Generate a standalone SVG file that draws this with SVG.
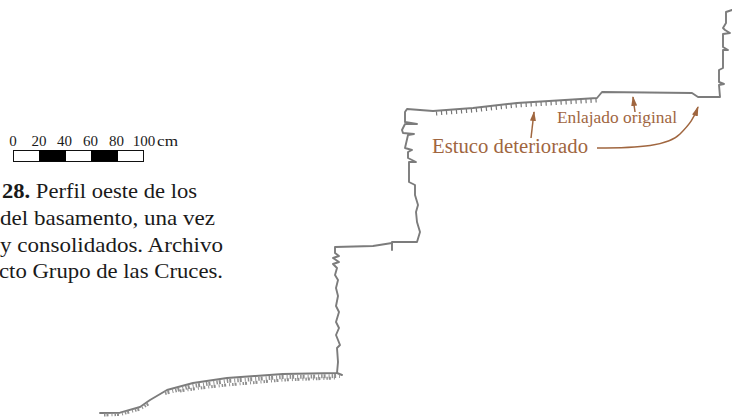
<svg xmlns="http://www.w3.org/2000/svg" width="732" height="419" viewBox="0 0 732 419">
<style>
text{font-family:"Liberation Serif","Times New Roman",serif}
.cap{font-size:22px;fill:#1a1a1a}
.sc{font-size:15px;fill:#1a1a1a}
.lab{fill:#a0663f}
.ln{fill:none;stroke:#a0663f;stroke-width:1.5}
.pf{fill:none;stroke:#7c7c7c;stroke-width:1.9;stroke-linejoin:round;stroke-linecap:round}
.ht{fill:none;stroke:#777;stroke-width:4;stroke-dasharray:1.2 3.8}
.gr{fill:none;stroke:#8f8f8f;stroke-dasharray:1.5 1 2 3 1 2}
</style>
<defs>
<marker id="ah" markerUnits="userSpaceOnUse" markerWidth="12" markerHeight="8" refX="9" refY="3" orient="auto"><path d="M0 0L10 3L0 6z" fill="#a0663f"/></marker>
<filter id="b" x="-5%" y="-5%" width="110%" height="110%"><feGaussianBlur stdDeviation="0.5"/></filter>
<filter id="c" x="-5%" y="-20%" width="110%" height="140%"><feGaussianBlur stdDeviation="0.7"/></filter>
</defs>
<g id="profile" filter="url(#b)">
<path class="pf" d="M100 413L120 412.7L140 407L150 400L167 390L193 383L227 378L283 374L337 373L338 362L337 348L340 345L336 335L339 328L336 322L339 312L336 306L338 296L336 288L338 280L335 275L337 268L333 264L339 262L333 258L339 256L335 253L335 247L373 246L392 243L392 242L417 242L420 232L417 222L416 212L418 205L415 195L415 185L409 182L409 162L416 162L408 158L408 152L412 150L405 148L408 135L414 134L403 133L402 130L405 124L417 124L405 122L405 112L407 109L433 111L473 108L517 103L597 98L602 92L692 93L698 97L720 97L719 85L724 84L719 82L719 70L723 68L723 50L728 50L723 47L723 34L730 33L725 30L723 28L726 23L726 12L732 10"/>
<path class="pf" d="M392 243L392 250M337 373L342 375"/>
<path class="ht" d="M436 113.500L473 110.500L517 105.500L597 100.500"/>
</g>
<g id="texture" filter="url(#c)">
<path class="gr" stroke-width="4" d="M165 393L193 386L227 381L283 377L340 376"/>
<path class="gr" stroke-width="3" d="M180 391L200 388L227 385L283 380L335 378"/>
<path class="gr" stroke-width="3" d="M104 415L120 414.500L140 409L150 403"/>
</g>
<g id="scale">
<rect x="13.500" y="150.500" width="130" height="11" fill="#fff" stroke="#111"/>
<rect x="39" y="150" width="27" height="11.500" fill="#000"/>
<rect x="91" y="150" width="27" height="11.500" fill="#000"/>
<text class="sc" x="13" y="146" text-anchor="middle">0</text>
<text class="sc" x="39" y="146" text-anchor="middle">20</text>
<text class="sc" x="64.500" y="146" text-anchor="middle">40</text>
<text class="sc" x="90.500" y="146" text-anchor="middle">60</text>
<text class="sc" x="116.500" y="146" text-anchor="middle">80</text>
<text class="sc" x="144" y="146" text-anchor="middle">100</text>
<text class="sc" x="157" y="146" textLength="21" lengthAdjust="spacingAndGlyphs">cm</text>
</g>
<g id="caption">
<text class="cap" x="2" y="198" textLength="195" lengthAdjust="spacingAndGlyphs"><tspan font-weight="bold">28.</tspan> Perfil oeste de los</text>
<text class="cap" x="0" y="225" textLength="215" lengthAdjust="spacingAndGlyphs">del basamento, una vez</text>
<text class="cap" x="0" y="252" textLength="223" lengthAdjust="spacingAndGlyphs">y consolidados. Archivo</text>
<text class="cap" x="-1" y="278" textLength="224" lengthAdjust="spacingAndGlyphs">cto Grupo de las Cruces.</text>
</g>
<g id="connectors">
<path class="ln" marker-end="url(#ah)" d="M531 138L534 112"/>
<path class="ln" marker-end="url(#ah)" d="M635 112L633 97"/>
<path class="ln" marker-end="url(#ah)" d="M597 148C640 148 668 146 680 134C690 124 694 118 698 107"/>
</g>
<g id="label-estuco"><text class="lab" x="432" y="153" font-size="20" textLength="156" lengthAdjust="spacingAndGlyphs">Estuco deteriorado</text></g>
<g id="label-enlajado"><text class="lab" x="557" y="122.500" font-size="16" textLength="120" lengthAdjust="spacingAndGlyphs">Enlajado original</text></g>
</svg>
